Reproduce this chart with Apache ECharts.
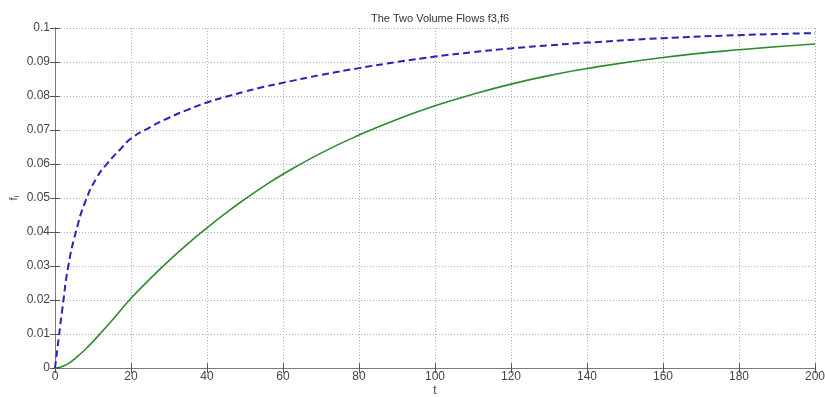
<!DOCTYPE html>
<html>
<head>
<meta charset="utf-8">
<script src="https://cdn.jsdelivr.net/npm/echarts@6/dist/echarts.min.js"></script>
<style>
  html, body { margin: 0; padding: 0; background: #fff; }
  #chart { width: 825px; height: 397px; }
</style>
</head>
<body>
<div id="chart"></div>
<script>
// time samples (t) and the two flows
var tValues = [0, 1, 2, 3.5, 5.5, 8, 11, 14, 17, 20, 25, 30, 35, 40, 45, 50, 55, 60, 70, 80, 90, 100, 110, 120, 130, 140, 160, 180, 200];
var f3Values = [0, 0.009, 0.018, 0.030, 0.040, 0.049, 0.056, 0.0605, 0.0641, 0.0675, 0.0708, 0.0736, 0.0760, 0.0781, 0.0798, 0.0813, 0.0827, 0.0839, 0.0862, 0.0882, 0.0900, 0.0916, 0.0929, 0.0940, 0.0949, 0.0957, 0.0970, 0.0979, 0.0985];
var f6Values = [0, 0.0001, 0.0005, 0.0013, 0.0030, 0.0055, 0.0090, 0.0127, 0.0166, 0.0205, 0.0262, 0.0316, 0.0366, 0.0412, 0.0456, 0.0497, 0.0535, 0.0570, 0.0632, 0.0685, 0.0731, 0.0771, 0.0805, 0.0835, 0.0860, 0.0881, 0.0913, 0.0936, 0.0953];
var xTicks = {min: 0, max: 200, interval: 20};
var yTicks = {min: 0, max: 0.1, interval: 0.01};

function pairs(xs, ys) {
  var out = [];
  for (var i = 0; i < xs.length; i++) {
    out.push([xs[i], ys[i]]);
  }
  return out;
}

var axisGray = '#7a7a7a';
var labelColor = '#444';
var font = 'Liberation Sans, Arial, sans-serif';

var chart = echarts.init(document.getElementById('chart'));
var option = {
  backgroundColor: '#fff',
  animation: false,
  title: {
    text: 'The Two Volume Flows f3,f6',
    left: 435,
    textAlign: 'center',
    top: 8,
    textStyle: {fontSize: 11, fontWeight: 'normal', color: '#333', fontFamily: font}
  },
  grid: {left: 55, right: 10, top: 28, bottom: 29, containLabel: false, outerBoundsMode: 'none'},
  xAxis: [{
    type: 'value',
    min: xTicks.min, max: xTicks.max, interval: xTicks.interval,
    name: 't', nameLocation: 'middle', nameGap: 17, nameMoveOverlap: false,
    nameTextStyle: {fontSize: 12, color: labelColor, fontFamily: font},
    axisLine: {show: true, onZero: false, lineStyle: {color: axisGray, width: 1}},
    axisTick: {show: true, inside: true, length: 5, lineStyle: {color: '#555'}},
    axisLabel: {fontSize: 12, color: labelColor, margin: 3, fontFamily: font},
    splitLine: {show: true, lineStyle: {color: '#b0b0b0', type: [1, 2], width: 1}}
  }, {
    type: 'value', position: 'top',
    min: xTicks.min, max: xTicks.max, interval: xTicks.interval,
    axisLine: {show: true, lineStyle: {color: axisGray, width: 1}},
    axisTick: {show: true, inside: true, length: 5, lineStyle: {color: '#555'}},
    axisLabel: {show: false},
    splitLine: {show: false}
  }],
  yAxis: [{
    type: 'value',
    min: yTicks.min, max: yTicks.max, interval: yTicks.interval,
    name: '{f|f}{s|i}', nameLocation: 'middle', nameGap: 34, nameRotate: 90, nameMoveOverlap: false,
    nameTextStyle: {
      color: labelColor,
      rich: {
        f: {fontSize: 11, color: labelColor, fontFamily: font},
        s: {fontSize: 8, color: labelColor, fontFamily: font, verticalAlign: 'bottom', padding: [6, 0, 0, 0]}
      }
    },
    axisLine: {show: true, onZero: false, lineStyle: {color: axisGray, width: 1}},
    axisTick: {show: true, inside: true, length: 5, lineStyle: {color: '#555'}},
    axisLabel: {
      fontSize: 12, color: labelColor, margin: 5, fontFamily: font,
      formatter: function (v) { return String(parseFloat(v.toFixed(2))); }
    },
    splitLine: {show: true, lineStyle: {color: '#b0b0b0', type: [1, 2], width: 1}}
  }, {
    type: 'value', position: 'right',
    min: yTicks.min, max: yTicks.max, interval: yTicks.interval,
    axisLine: {show: true, lineStyle: {color: axisGray, width: 1}},
    axisTick: {show: true, inside: true, length: 5, lineStyle: {color: '#555'}},
    axisLabel: {show: false},
    splitLine: {show: false}
  }],
  series: [{
    name: 'f3',
    type: 'line',
    data: pairs(tValues, f3Values),
    showSymbol: false,
    smooth: 0.5,
    lineStyle: {color: '#2525b8', width: 2, type: [7, 4]},
    z: 3
  }, {
    name: 'f6',
    type: 'line',
    data: pairs(tValues, f6Values),
    showSymbol: false,
    smooth: 0.5,
    lineStyle: {color: '#2f8a2f', width: 1.6},
    z: 2
  }]
};
chart.setOption(option);
</script>
</body>
</html>
